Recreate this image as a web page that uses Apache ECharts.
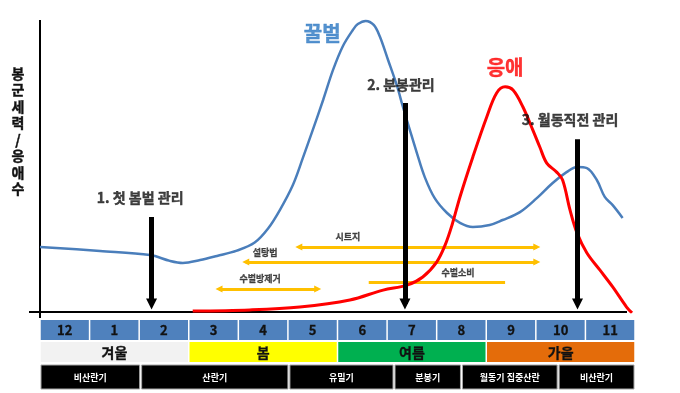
<!DOCTYPE html>
<html><head><meta charset="utf-8">
<script src="https://cdn.jsdelivr.net/npm/echarts@6/dist/echarts.min.js"></script>
<style>html,body{margin:0;padding:0;background:#fff}#c{width:680px;height:393px}</style>
</head><body><div id="c"></div>
<script>
// ---------- data ----------
const monthLabels = ['12','1','2','3','4','5','6','7','8','9','10','11'];
const seasonNames = ['겨울','봄','여름','가을'];
const seasonSpans = [[0,3],[3,6],[6,9],[9,12]];
const periodNames = ['비산란기','산란기','유밀기','분봉기','월동기 집중산란','비산란기'];
const periodSpans = [[0,2.03],[2.03,5.02],[5.02,7.14],[7.14,8.5],[8.5,10.45],[10.45,12]];

const beeName = '꿀벌';
const beeMonths = [0,1.21,2.22,2.62,2.88,3.23,3.57,3.97,4.33,4.60,4.84,5.10,5.30,5.50,5.71,5.91,6.11,6.31,6.41,6.57,6.73,6.85,7.02,7.20,7.32,7.46,7.60,7.76,7.96,8.21,8.47,8.73,9.07,9.33,9.68,10.02,10.34,10.62,10.83,11.03,11.23,11.39,11.55,11.75];
const beeValues = [22.3,20.9,19.5,17.5,16.8,17.8,19.2,21.0,23.8,28.6,35.0,43.5,52.7,62.3,72.6,82.9,91.1,96.6,98.6,99.7,98.3,94.5,86.3,77.4,70.2,62.3,54.5,46.2,39.0,33.9,30.5,29.1,29.8,31.5,34.2,39.0,44.2,47.9,49.7,49.3,45.2,39.4,36.6,32.2];

const miteName = '응애';
const miteMonths = [3.08,4.23,5.24,6.25,6.92,7.40,7.72,8.00,8.17,8.31,8.47,8.73,9.01,9.21,9.38,9.54,9.74,9.94,10.08,10.22,10.42,10.54,10.69,10.83,11.03,11.29,11.55,11.83,11.94];
const miteValues = [0.3,0.7,1.7,4.1,7.5,9.2,12.0,17.1,22.9,29.8,39.4,53.1,66.8,75.0,77.1,76.0,70.2,62.3,56.5,51.0,47.9,45.2,34.9,27.1,20.2,14.4,8.6,1.7,-0.3];

const arrowLabels = ['1. 첫 봄벌 관리','2. 분봉관리','3. 월동직전 관리'];
const arrowMonths = [2.25,7.36,10.84];
const arrowTops = [32.5,71.6,59.2];
const arrowLabelAt = [[2.02,39.0],[7.28,77.7],[10.69,65.8]];

const methodNames = ['시트지','설탕법','수벌방제거','수벌소비'];
const methodSpans = [[5.22,10.02],[4.15,10.02],[3.61,5.60],[6.63,9.38]];
const methodLevels = [22.3,17.1,7.9,10.3];
const methodArrowed = [true,true,true,false];
const methodLabelAt = [[6.21,25.7],[4.54,20.2],[4.44,11.3],[8.43,13.4]];

const seriesLabelAt = [[5.69,95.5],[9.38,83.6]];

// ---------- chart ----------
const FONT = '"Noto Sans CJK KR","Noto Sans",sans-serif';
const chart = echarts.init(document.getElementById('c'), null, {renderer:'canvas'});

const arrowEnd = 2.7;
function textSeries(points, texts, size, colors, border){
  return {
    type:'scatter', xAxisIndex:0, yAxisIndex:0, symbolSize:0, z:10, silent:true,
    data: points.map((p,i)=>{
      const c = Array.isArray(colors)?colors[i]:colors;
      return {value:[p[0],p[1]], label:{color:c, textBorderColor:c, textBorderWidth:border}};
    }),
    label:{show:true, position:'inside', fontFamily:FONT, fontWeight:'bold', fontSize:size,
      formatter:(p)=>texts[p.dataIndex]}
  };
}

function tableRow(rowTop, rowH, spans, texts, fills, textStyle, inset, stroke){
  return {
    type:'custom', xAxisIndex:1, yAxisIndex:1, coordinateSystem:'cartesian2d',
    data: spans.map(s=>[s[0],s[1]]), encode:{x:[0,1]}, silent:true,
    renderItem:(params, api)=>{
      const i = params.dataIndex;
      const x0 = api.coord([api.value(0),0])[0];
      const x1 = api.coord([api.value(1),0])[0];
      const top = params.coordSys.y + rowTop;
      return {type:'group', children:[
        {type:'rect', shape:{x:x0+inset, y:top, width:x1-x0-2*inset, height:rowH},
         style:{fill:fills[i], stroke:stroke||null, lineWidth:stroke?1:0}},
        {type:'text', style:Object.assign({text:texts[i], x:(x0+x1)/2, y:top+rowH/2+0.5,
          align:'center', verticalAlign:'middle'}, textStyle)}
      ]};
    }
  };
}

const option = {
  animation:false,
  backgroundColor:'#fff',
  grid:[
    {left:40, top:20, width:595, height:292},
    {left:40, top:320, width:595, height:69}
  ],
  xAxis:[
    {type:'value', gridIndex:0, min:0, max:12, show:false},
    {type:'value', gridIndex:1, min:0, max:12, show:false}
  ],
  yAxis:[
    {type:'value', gridIndex:0, min:0, max:100, show:false},
    {type:'value', gridIndex:1, min:0, max:1, show:false}
  ],
  graphic:[
    {type:'line', shape:{x1:40,y1:20,x2:40,y2:318}, style:{stroke:'#000', lineWidth:2}, z:1},
    {type:'line', shape:{x1:29,y1:312,x2:627,y2:312}, style:{stroke:'#000', lineWidth:2}, z:1},
    {type:'text', x:18, y:131, style:{text:'봉\n군\n세\n력\n/\n응\n애\n수', align:'center', verticalAlign:'middle',
      font:'bold 14px '+FONT, lineHeight:16.5, fill:'#111', stroke:'#111', lineWidth:0.4}}
  ],
  series:[
    {type:'lines', coordinateSystem:'cartesian2d', xAxisIndex:0, yAxisIndex:0, z:3, silent:true,
     symbol:['triangle','triangle'], symbolSize:7,
     lineStyle:{color:'#ffc000', width:3, opacity:1},
     data: methodNames.map((n,i)=>({coords:[[methodSpans[i][0],methodLevels[i]],[methodSpans[i][1],methodLevels[i]]]})).filter((d,i)=>methodArrowed[i])},
    {type:'lines', coordinateSystem:'cartesian2d', xAxisIndex:0, yAxisIndex:0, z:3, silent:true,
     symbol:['none','none'],
     lineStyle:{color:'#ffc000', width:3, opacity:1},
     data: methodNames.map((n,i)=>({coords:[[methodSpans[i][0],methodLevels[i]],[methodSpans[i][1],methodLevels[i]]]})).filter((d,i)=>!methodArrowed[i])},
    {type:'line', name:beeName, xAxisIndex:0, yAxisIndex:0, z:4, smooth:0.35, showSymbol:false, silent:true,
     lineStyle:{color:'#4a7ebb', width:2.5}, itemStyle:{color:'#4a7ebb'},
     data: beeMonths.map((m,i)=>[m,beeValues[i]])},
    {type:'line', name:miteName, xAxisIndex:0, yAxisIndex:0, z:5, smooth:0.35, showSymbol:false, silent:true,
     lineStyle:{color:'#ff0000', width:3}, itemStyle:{color:'#ff0000'},
     data: miteMonths.map((m,i)=>[m,miteValues[i]])},
    {type:'lines', coordinateSystem:'cartesian2d', xAxisIndex:0, yAxisIndex:0, z:6, silent:true,
     symbol:['none','triangle'], symbolSize:11,
     lineStyle:{color:'#000', width:5, opacity:1},
     data: arrowMonths.map((m,i)=>({coords:[[m,arrowTops[i]],[m,arrowEnd]]}))},
    textSeries(arrowLabelAt, arrowLabels, 14, '#111', 0.4),
    textSeries(methodLabelAt, methodNames, 9, '#222', 0.3),
    textSeries(seriesLabelAt, [beeName, miteName], 20, ['#2b77c2','#ff0000'], 0.4),
    tableRow(0, 20, monthLabels.map((t,i)=>[i,i+1]), monthLabels, monthLabels.map(()=> '#4f81bd'),
      {font:'bold 13px '+FONT, fill:'#111', stroke:'#111', lineWidth:0.3}, 0.75),
    tableRow(22, 20, seasonSpans, seasonNames, ['#f2f2f2','#ffff00','#00b050','#e46c0a'],
      {font:'bold 14px '+FONT, fill:'#111', stroke:'#111', lineWidth:0.3}, 0.75),
    tableRow(45, 24, periodSpans, periodNames, periodNames.map(()=> '#000'),
      {font:'bold 9px '+FONT, fill:'#fff'}, 1, '#a6a6a6')
  ]
};
chart.setOption(option);
</script></body></html>
